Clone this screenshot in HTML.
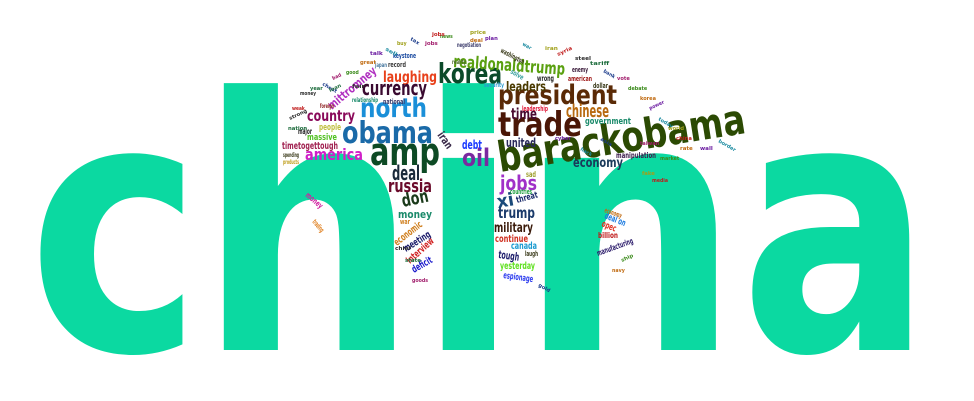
<!DOCTYPE html>
<html><head><meta charset="utf-8"><style>
html,body{margin:0;padding:0;background:#fff;overflow:hidden;}
svg{display:block;}
text{font-family:"DejaVu Sans Condensed","DejaVu Sans","Liberation Sans",sans-serif;font-weight:bold;}
text.big{font-family:"DejaVu Sans","Liberation Sans",sans-serif;font-weight:bold;}
</style></head><body>
<svg id="cloud" width="974" height="401" viewBox="0 0 974 401" xmlns="http://www.w3.org/2000/svg">
<rect width="974" height="401" fill="#fff"/>
<g fill="#0bd9a1">
<text class="big" id="L0" font-size="365" transform="translate(17,350) scale(0.84,1)">c</text>
<text class="big" id="L1" font-size="365" transform="translate(192,350) scale(0.84,1)">h</text>
<text class="big" id="L2" font-size="365" transform="translate(409,350) scale(0.84,1)">i</text>
<text class="big" id="L3" font-size="365" transform="translate(514,350) scale(0.84,1)">n</text>
<text class="big" id="L4" font-size="365" transform="translate(729,350) scale(0.84,1)">a</text>
</g>
<g id="words"></g>
</svg>
<script>
// fit big letters to measured ink boxes
(function(){
  const targets = [[37,184],[222,396],[441,496],[543,718],[749,913]];
  const chars = ['c','h','i','n','a'];
  const cv = document.createElement('canvas');
  const ctx = cv.getContext('2d');
  ctx.font = 'bold 100px "DejaVu Sans"';
  const hm = ctx.measureText('h');
  if (!hm.actualBoundingBoxAscent) return;
  const size = 100 * (350 - 83) / hm.actualBoundingBoxAscent;
  ctx.font = 'bold ' + size + 'px "DejaVu Sans"';
  for (let i = 0; i < 5; i++) {
    const m = ctx.measureText(chars[i]);
    const left = -m.actualBoundingBoxLeft;
    const right = m.actualBoundingBoxRight;
    const sx = (targets[i][1] - targets[i][0]) / (right - left);
    const tx = targets[i][0] - left * sx;
    const el = document.getElementById('L' + i);
    el.setAttribute('font-size', size);
    el.setAttribute('transform', 'translate(' + tx + ',350) scale(' + sx + ',1)');
  }
})();
const words = [
["barackobama",500,172,42,250,"#2b4a03",-9],
["amp",370,165,38,70,"#0d4a24",0],
["trade",498,136,34,84,"#4a1606",0],
["president",498,104,27,119,"#5a2a06",0],
["korea",438,83,28,64,"#0b4a2a",0],
["realdonaldtrump",453,67,17,112,"#5aa010",4],
["laughing",383,82,15,54,"#e8401a",0],
["currency",362,95,20,65,"#3a0a30",0],
["north",360,117,27,67,"#1a8fd8",0],
["obama",342,143,30,91,"#1a6aa8",0],
["country",307,121,15,48,"#8a0a5a",0],
["america",305,160,16,58,"#d020c8",0],
["mittromney",332,110,12,59,"#b030c0",-40],
["timetogettough",282,149,10,56,"#a02050",0],
["massive",307,140,9,30,"#50c020",0],
["people",319,130,9,22,"#c0c040",0],
["major",298,134,8,14,"#2a2a2a",0],
["time",511,119,15,26,"#4a0a30",0],
["chinese",566,117,18,43,"#b86a10",0],
["leaders",506,91,13,40,"#4a3a00",0],
["government",585,124,9,46,"#1a8a6a",0],
["united",506,147,12,30,"#2a2a5a",0],
["economy",573,167,13,50,"#1a3a5a",0],
["oil",462,166,24,28,"#7a2aa0",0],
["debt",462,149,12,20,"#1a3aff",0],
["iran",437,135,11,18,"#3a2a4a",55],
["manipulation",616,158,8,40,"#3a1a4a",0],
["deal",392,180,20,28,"#1a2a3a",0],
["russia",388,192,18,44,"#6a0a2a",0],
["don",403,207,18,27,"#1a3a1a",-12],
["money",398,218,11,34,"#1a8a6a",0],
["economic",397,246,10,33,"#d08020",-38],
["meeting",406,252,10,30,"#1a1a6a",-32],
["interview",410,264,10,33,"#d02020",-42],
["deficit",414,273,10,22,"#1a1acc",-30],
["war",400,224,7,10,"#d08020",0],
["jobs",500,190,20,37,"#a030c8",0],
["xi",498,208,18,17,"#1a4a7a",-10],
["threat",517,203,9,22,"#1a2a6a",-15],
["countries",510,194,7,22,"#20a040",0],
["trump",498,218,15,37,"#1a3a6a",0],
["military",494,232,13,39,"#3a1a0a",0],
["continue",495,242,10,33,"#d03020",0],
["canada",511,249,10,26,"#1a9ad0",0],
["tough",498,258,11,21,"#1a1a6a",8],
["laugh",525,256,7,13,"#3a3a1a",0],
["yesterday",500,269,10,35,"#60e020",0],
["espionage",503,278,9,30,"#2a3aee",8],
["sad",526,177,8,10,"#a0a030",0],
["deal on",604,218,9,22,"#1a7ae0",22],
["opec",601,226,9,15,"#e03020",22],
["billion",598,238,8,20,"#c01a1a",0],
["manufacturing",598,256,8,38,"#2a1a6a",-20],
["economy",604,212,7,18,"#c06a10",20],
["money",305,196,8,20,"#d020a0",40],
["trading",312,222,7,14,"#e08020",50],
["keystone",393,58,7,23,"#1a4aa0",0],
["record",388,67,7,18,"#3a3a3a",0],
["japan",375,67,6,12,"#4a7aa0",0],
["negotiation",457,47,6,24,"#3a3a6a",0],
["washington",500,52,7,26,"#3a3a1a",28],
["solve",510,73,7,14,"#3aa0a0",30],
["reality",452,64,6,14,"#4a6a2a",0],
["wrong",537,81,8,17,"#2a2a2a",0],
["enemy",572,72,7,16,"#3a1a3a",0],
["american",568,81,7,24,"#a01a1a",0],
["dollar",593,88,7,15,"#3a3a1a",0],
["relationship",352,102,6,26,"#1a8a6a",0],
["national",383,104,7,22,"#3a3a6a",0],
["security",484,87,6,20,"#2a9ad0",0],
["leadership",522,111,7,26,"#e01a3a",0],
["foreign",320,108,6,14,"#8a1a1a",0],
["spending",283,157,6,16,"#3a3a1a",0],
["products",283,164,6,16,"#c0a020",0]
];
const fillers = ["tax","jobs","news","deal","plan","war","iran","syria","steel","tariff","bank","vote","debate","korea","power","today","world","china","money","year","cheat","bad","good","great","talk","sell","buy","weak","strong","nation","asia","taiwan","market","rate","wall","border","fake","media","chief","state","gold","goods","ship","navy","cyber","hack","price","jobs","fair","loan"];
const fillerX = [410,425,440,470,485,522,545,558,575,590,603,617,628,640,650,658,668,676,300,310,322,333,346,360,370,385,397,292,290,288,600,640,660,680,700,718,642,652,395,405,538,412,622,612,555,580,470,432,352,330];
const fillerY = [40,45,38,42,40,45,50,56,60,65,72,80,90,100,110,120,130,140,95,90,85,80,74,64,55,50,45,110,120,130,140,145,160,150,150,142,175,182,250,262,286,282,262,272,140,150,34,36,88,92];
const colors = ["#1a3a8a","#a01a6a","#3a8a1a","#c06a10","#6a1aa0","#1a8aa0","#a0a01a","#c01a1a","#2a2a2a","#1a6a3a"];
const g = document.getElementById('words');
const NS = 'http://www.w3.org/2000/svg';
function addWord(w, x, y, size, width, color, rot) {
  const t = document.createElementNS(NS, 'text');
  t.setAttribute('x', x);
  t.setAttribute('y', y);
  t.setAttribute('font-size', size);
  t.setAttribute('fill', color);
  t.setAttribute('textLength', width);
  t.setAttribute('lengthAdjust', 'spacingAndGlyphs');
  if (rot) t.setAttribute('transform', 'rotate(' + rot + ' ' + x + ' ' + y + ')');
  t.textContent = w;
  
  
  g.appendChild(t);
}
words.forEach(function (d) { addWord(d[0], d[1], d[2], d[3], d[4], d[5], d[6]); });
for (let i = 0; i < fillers.length; i++) {
  const w = fillers[i];
  addWord(w, fillerX[i], fillerY[i], 5, w.length * 3.2, colors[i % colors.length], (i % 5 === 0) ? 30 : ((i % 7 === 0) ? -25 : 0));
}
</script>
</body></html>
